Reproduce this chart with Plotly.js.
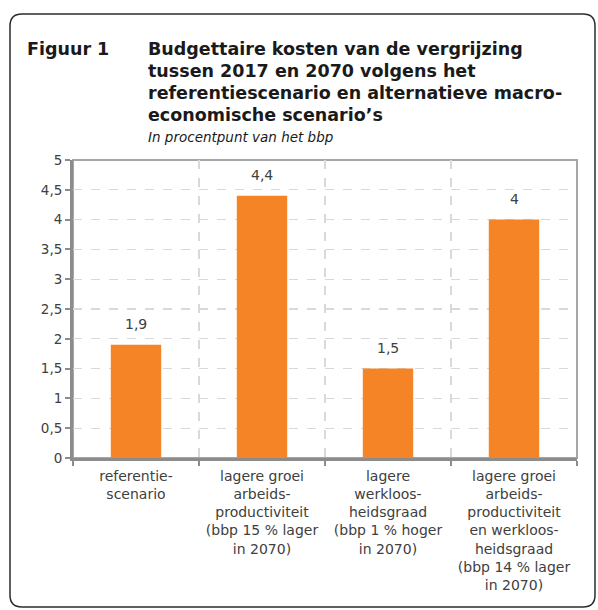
<!DOCTYPE html>
<html>
<head>
<meta charset="utf-8">
<script src="https://cdn.plot.ly/plotly-3.0.1.min.js"></script>
<style>html,body{margin:0;padding:0;background:#fff;}#chart{width:598px;height:610px;}</style>
</head>
<body>
<div id="chart"></div>
<script>
const categories = [
  "referentie-<br>scenario",
  "lagere groei<br>arbeids-<br>productiviteit<br>(bbp 15 % lager<br>in 2070)",
  "lagere<br>werkloos-<br>heidsgraad<br>(bbp 1 % hoger<br>in 2070)",
  "lagere groei<br>arbeids-<br>productiviteit<br>en werkloos-<br>heidsgraad<br>(bbp 14 % lager<br>in 2070)"
];
const values = [1.9, 4.4, 1.5, 4.0];
const valueLabels = ["1,9", "4,4", "1,5", "4"];
const yTicks = [0, 0.5, 1, 1.5, 2, 2.5, 3, 3.5, 4, 4.5, 5];
const figLabel = "Figuur 1";
const titleLines = [
  "Budgettaire kosten van de vergrijzing",
  "tussen 2017 en 2070 volgens het",
  "referentiescenario en alternatieve macro-",
  "economische scenario’s"
];
const subtitleText = "In procentpunt van het bbp";

const W = 598, H = 610, ML = 73, MR = 21, MT = 160, MB = 152;
const PW = W - ML - MR, PH = H - MT - MB;
const px2x = p => (p - ML) / PW;
const py2y = p => (H - MB - p) / PH;

const FONT = "DejaVu Sans, sans-serif";

// rounded border
const bx0 = px2x(10), bx1 = px2x(595), by0 = py2y(14), by1 = py2y(607);
const rx = 12 / PW, ry = 12 / PH;
const borderPath = `M ${bx0+rx},${by0} L ${bx1-rx},${by0} Q ${bx1},${by0} ${bx1},${by0-ry} L ${bx1},${by1+ry} Q ${bx1},${by1} ${bx1-rx},${by1} L ${bx0+rx},${by1} Q ${bx0},${by1} ${bx0},${by1+ry} L ${bx0},${by0-ry} Q ${bx0},${by0} ${bx0+rx},${by0} Z`;

const titleFont = {family:FONT, size:17.5, color:'#1a1a1a'};
const annotations = [
  {xref:'paper', yref:'paper', x:px2x(25), y:py2y(49), xanchor:'left', yanchor:'middle', align:'left', showarrow:false,
   text:'<b>'+figLabel+'</b>', font:titleFont}
];
titleLines.forEach((t, i) => {
  annotations.push({xref:'paper', yref:'paper', x:px2x(146), y:py2y(49 + 22*i), xanchor:'left', yanchor:'middle', align:'left', showarrow:false,
    text:'<b>'+t+'</b>', font:titleFont});
});
annotations.push({xref:'paper', yref:'paper', x:px2x(146), y:py2y(137), xanchor:'left', yanchor:'middle', align:'left', showarrow:false,
   text:'<i>'+subtitleText+'</i>', font:{family:FONT, size:13.5, color:'#1a1a1a'}});
categories.forEach((c, i) => {
  annotations.push({x:c, y:values[i], xref:'x', yref:'y', yanchor:'bottom', showarrow:false, yshift:11,
    text:valueLabels[i], font:{family:FONT, size:14, color:'#404040'}});
});

const data = [{
  type:'bar', x:categories, y:values, marker:{color:'#F58426'}, hoverinfo:'none'
}];

const layout = {
  width:W, height:H, margin:{l:ML, r:MR, t:MT, b:MB},
  paper_bgcolor:'#fff', plot_bgcolor:'#fff',
  separators:', ', showlegend:false, bargap:0.6,
  font:{family:FONT, color:'#404040'},
  xaxis:{type:'category', tickson:'boundaries', showgrid:true, gridcolor:'#d9d9d9', griddash:'dash', gridwidth:1.3,
    ticks:'outside', ticklen:5, tickcolor:'#8c8c8c', tickwidth:2, ticklabelstandoff:3,
    showline:true, linecolor:'#8c8c8c', linewidth:3, mirror:false,
    tickfont:{family:FONT, size:14, color:'#404040'}, fixedrange:true},
  yaxis:{range:[0,5], tickvals:yTicks, showgrid:true, gridcolor:'#d9d9d9', griddash:'dash', gridwidth:1.3,
    ticks:'outside', ticklen:5, tickcolor:'#8c8c8c', tickwidth:2,
    showline:true, linecolor:'#8c8c8c', linewidth:3, zeroline:false,
    tickfont:{family:FONT, size:13.5, color:'#404040'}, fixedrange:true},
  shapes:[
    {type:'path', xref:'paper', yref:'paper', path:borderPath, line:{color:'#2b2b2b', width:1.5}, fillcolor:'rgba(0,0,0,0)', layer:'below'},
    {type:'rect', xref:'paper', yref:'paper', x0:0, x1:1, y0:0, y1:1, line:{color:'#a6a6a6', width:2}, layer:'below'}
  ],
  annotations:annotations
};

Plotly.newPlot('chart', data, layout, {displayModeBar:false, staticPlot:true});
</script>
</body>
</html>
